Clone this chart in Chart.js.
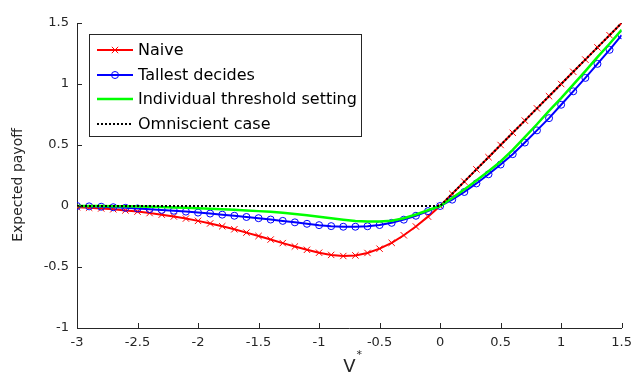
<!DOCTYPE html>
<html>
<head>
<meta charset="utf-8">
<script src="https://cdn.jsdelivr.net/npm/chart.js@4.4.1/dist/chart.umd.min.js"></script>
<style>
  html, body { margin: 0; padding: 0; background: #fff; }
  canvas { display: block; }
</style>
</head>
<body>
<canvas id="payoffChart" width="639" height="382"></canvas>
<script>
/* DATA */
const vStar = [-3, -2.9, -2.8, -2.7, -2.6, -2.5, -2.4, -2.3, -2.2, -2.1,
               -2, -1.9, -1.8, -1.7, -1.6, -1.5, -1.4, -1.3, -1.2, -1.1,
               -1, -0.9, -0.8, -0.7, -0.6, -0.5, -0.4, -0.3, -0.2, -0.1,
               0, 0.1, 0.2, 0.3, 0.4, 0.5, 0.6, 0.7, 0.8, 0.9,
               1, 1.1, 1.2, 1.3, 1.4, 1.5];

const naive = [-0.01, -0.014, -0.02, -0.027, -0.036, -0.046, -0.058, -0.071, -0.086, -0.103,
               -0.122, -0.143, -0.166, -0.191, -0.218, -0.246, -0.275, -0.304, -0.332, -0.359,
               -0.383, -0.401, -0.41, -0.405, -0.385, -0.35, -0.302, -0.24, -0.168, -0.087,
               0, 0.1, 0.2, 0.3, 0.4, 0.5, 0.6, 0.7, 0.8, 0.9,
               1, 1.1, 1.2, 1.3, 1.4, 1.5];

const tallest = [0, -0.003, -0.006, -0.01, -0.015, -0.02, -0.026, -0.032, -0.039, -0.046,
                 -0.054, -0.062, -0.071, -0.08, -0.09, -0.1, -0.111, -0.122, -0.134, -0.146,
                 -0.157, -0.165, -0.17, -0.17, -0.166, -0.156, -0.138, -0.112, -0.08, -0.042,
                 0, 0.052, 0.115, 0.185, 0.26, 0.34, 0.425, 0.52, 0.62, 0.72,
                 0.83, 0.94, 1.05, 1.165, 1.28, 1.4];

const individual = [0, 0, -0.001, -0.002, -0.003, -0.005, -0.007, -0.009, -0.012, -0.015,
                    -0.018, -0.022, -0.026, -0.031, -0.036, -0.042, -0.048, -0.056, -0.065, -0.075,
                    -0.088, -0.1, -0.112, -0.122, -0.128, -0.128, -0.12, -0.1, -0.07, -0.035,
                    0, 0.065, 0.135, 0.21, 0.285, 0.365, 0.46, 0.565, 0.67, 0.78,
                    0.885, 0.995, 1.105, 1.22, 1.33, 1.445];

const omniscient = [0, 0, 0, 0, 0, 0, 0, 0, 0, 0,
                    0, 0, 0, 0, 0, 0, 0, 0, 0, 0,
                    0, 0, 0, 0, 0, 0, 0, 0, 0, 0,
                    0, 0.1, 0.2, 0.3, 0.4, 0.5, 0.6, 0.7, 0.8, 0.9,
                    1, 1.1, 1.2, 1.3, 1.4, 1.5];

const xTicks = [-3, -2.5, -2, -1.5, -1, -0.5, 0, 0.5, 1, 1.5];
const yTicks = [-1, -0.5, 0, 0.5, 1, 1.5];

const seriesNames = ["Naive", "Tallest decides", "Individual threshold setting", "Omniscient case"];
const yTitle = "Expected payoff";

/*****************************************************************/

const FONT = "'DejaVu Sans', sans-serif";
const AXIS_COLOR = "#262626";

function toPoints(values) {
    return vStar.map((v, i) => ({ x: v, y: values[i] }));
}

// Inward tick marks, like the original figure
const inwardTicks = {
    id: "inwardTicks",
    afterDatasetsDraw(chart) {
        const ctx = chart.ctx;
        const area = chart.chartArea;
        const xs = chart.scales.x;
        const ys = chart.scales.y;
        ctx.save();
        ctx.strokeStyle = AXIS_COLOR;
        ctx.lineWidth = 1;
        ctx.beginPath();
        xTicks.forEach(v => {
            const px = Math.round(xs.getPixelForValue(v)) + 0.5;
            ctx.moveTo(px, area.bottom);
            ctx.lineTo(px, area.bottom - 5);
        });
        yTicks.forEach(v => {
            const py = Math.round(ys.getPixelForValue(v)) + 0.5;
            ctx.moveTo(area.left, py);
            ctx.lineTo(area.left + 5, py);
        });
        ctx.stroke();
        ctx.restore();
    }
};

// Legend box in the upper left corner
const boxLegend = {
    id: "boxLegend",
    afterDraw(chart) {
        const ctx = chart.ctx;
        const left = 89.5, top = 34.5, width = 272, height = 102;
        ctx.save();
        ctx.fillStyle = "#fff";
        ctx.fillRect(left, top, width, height);
        ctx.strokeStyle = AXIS_COLOR;
        ctx.lineWidth = 1;
        ctx.strokeRect(left, top, width, height);

        const rows = [50, 75, 99, 124];
        chart.data.datasets.forEach((ds, i) => {
            const y = rows[i];
            ctx.strokeStyle = ds.borderColor;
            ctx.lineWidth = ds.borderWidth;
            ctx.setLineDash(ds.borderDash || []);
            ctx.beginPath();
            ctx.moveTo(97, y);
            ctx.lineTo(133, y);
            ctx.stroke();
            ctx.setLineDash([]);
            if (ds.pointRadius > 0) {
                ctx.fillStyle = "rgba(0,0,0,0)";
                ctx.strokeStyle = ds.pointBorderColor;
                ctx.lineWidth = ds.pointBorderWidth;
                Chart.helpers.drawPoint(ctx, {
                    pointStyle: ds.pointStyle,
                    radius: ds.pointRadius,
                    borderWidth: ds.pointBorderWidth,
                    rotation: 0
                }, 115, y);
            }
            ctx.fillStyle = "#000";
            ctx.font = "16px " + FONT;
            ctx.textBaseline = "middle";
            ctx.textAlign = "left";
            ctx.fillText(ds.label, 138, y + 1);
        });
        ctx.restore();
    }
};

// Axis title extras: superscript star on V, and the y title
const axisTitles = {
    id: "axisTitles",
    afterDraw(chart) {
        const ctx = chart.ctx;
        const area = chart.chartArea;
        ctx.save();
        ctx.font = "18px " + FONT;
        const vWidth = ctx.measureText("V").width;
        const cx = (area.left + area.right) / 2;
        ctx.font = "11px " + FONT;
        ctx.fillStyle = AXIS_COLOR;
        ctx.textAlign = "left";
        ctx.textBaseline = "middle";
        ctx.fillText("*", cx + vWidth / 2 + 1, 355);

        ctx.translate(18, 185);
        ctx.rotate(-Math.PI / 2);
        ctx.font = "14px " + FONT;
        ctx.textAlign = "center";
        ctx.fillText(yTitle, 0, 0);
        ctx.restore();
    }
};

const context = document.getElementById("payoffChart").getContext("2d");
new Chart(context, {
    type: "line",
    data: {
        datasets: [{
            label: seriesNames[0],
            data: toPoints(naive),
            borderColor: "#ff0000",
            borderWidth: 2,
            pointStyle: "crossRot",
            pointRadius: 4.5,
            pointBorderColor: "#ff0000",
            pointBorderWidth: 1,
            pointBackgroundColor: "rgba(0,0,0,0)",
            order: 4
        }, {
            label: seriesNames[1],
            data: toPoints(tallest),
            borderColor: "#0000ff",
            borderWidth: 2,
            pointStyle: "circle",
            pointRadius: 3.5,
            pointBorderColor: "#0000ff",
            pointBorderWidth: 1,
            pointBackgroundColor: "rgba(0,0,0,0)",
            order: 3
        }, {
            label: seriesNames[2],
            data: toPoints(individual),
            borderColor: "#00ff00",
            borderWidth: 2.5,
            pointRadius: 0,
            order: 2
        }, {
            label: seriesNames[3],
            data: toPoints(omniscient),
            borderColor: "#000000",
            borderWidth: 2,
            borderDash: [2, 2],
            pointRadius: 0,
            order: 1
        }]
    },
    options: {
        responsive: false,
        animation: false,
        devicePixelRatio: 1,
        layout: { padding: { top: 23, right: 11, left: 0, bottom: 0 } },
        plugins: {
            legend: { display: false },
            tooltip: { enabled: false }
        },
        scales: {
            x: {
                type: "linear",
                min: -3,
                max: 1.5,
                grid: { display: false, drawTicks: false },
                border: { display: true, color: AXIS_COLOR, width: 1 },
                afterBuildTicks: scale => { scale.ticks = xTicks.map(v => ({ value: v })); },
                afterFit: scale => { scale.height = 54; },
                ticks: {
                    color: AXIS_COLOR,
                    font: { family: FONT, size: 13 },
                    padding: 7,
                    maxRotation: 0,
                    autoSkip: false,
                    callback: v => String(v)
                },
                title: {
                    display: true,
                    text: "V",
                    color: AXIS_COLOR,
                    font: { family: FONT, size: 18 },
                    padding: { top: 0, bottom: 4 }
                }
            },
            y: {
                type: "linear",
                min: -1,
                max: 1.5,
                grid: { display: false, drawTicks: false },
                border: { display: true, color: AXIS_COLOR, width: 1 },
                afterBuildTicks: scale => { scale.ticks = yTicks.map(v => ({ value: v })); },
                afterFit: scale => { scale.width = 77; },
                ticks: {
                    color: AXIS_COLOR,
                    font: { family: FONT, size: 13 },
                    padding: 8,
                    callback: v => String(v)
                },
                title: { display: false }
            }
        }
    },
    plugins: [inwardTicks, boxLegend, axisTitles]
});
</script>
</body>
</html>
